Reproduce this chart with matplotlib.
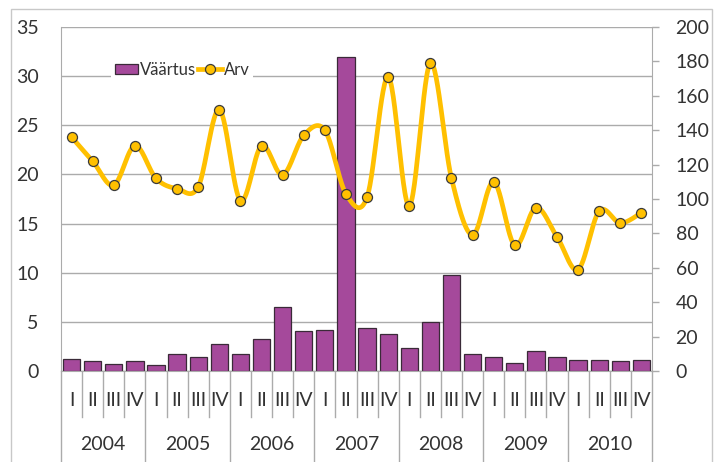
# quarterly value (bars, left axis) and count (smoothed line, right axis), 2004-2010

import numpy as np
import matplotlib
matplotlib.use("Agg")
import matplotlib.pyplot as plt
from matplotlib.patches import Patch, Rectangle
from matplotlib.lines import Line2D

plt.rcParams['font.family'] = ['Lato', 'DejaVu Sans']

years = ['2004', '2005', '2006', '2007', '2008', '2009', '2010']
quarters = ['I', 'II', 'III', 'IV']

vaartus = [1.2, 1.0, 0.7, 1.0,
           0.6, 1.7, 1.4, 2.7,
           1.7, 3.3, 6.5, 4.1,
           4.2, 31.9, 4.4, 3.8,
           2.3, 5.0, 9.8, 1.7,
           1.4, 0.8, 2.0, 1.4,
           1.1, 1.1, 1.0, 1.1]

arv = [136, 122, 108, 131,
       112, 106, 107, 152,
       99, 131, 114, 137,
       140, 103, 101, 171,
       96, 179, 112, 79,
       110, 73, 95, 78,
       59, 93, 86, 92]

bar_color = '#A5499B'
line_color = '#FFC000'
grid_color = '#ABABAB'
text_color = '#333333'


def smooth(xs, ys, steps=30):
    # cubic bezier through every point, control points from neighbours (catmull-rom)
    xs = np.asarray(xs, float)
    ys = np.asarray(ys, float)
    px = np.concatenate([[xs[0]], xs, [xs[-1]]])
    py = np.concatenate([[ys[0]], ys, [ys[-1]]])
    out_x, out_y = [], []
    t = np.linspace(0, 1, steps)
    for i in range(1, len(px) - 2):
        p0 = np.array([px[i], py[i]])
        p3 = np.array([px[i + 1], py[i + 1]])
        c1 = p0 + (np.array([px[i + 1], py[i + 1]]) - np.array([px[i - 1], py[i - 1]])) / 6
        c2 = p3 - (np.array([px[i + 2], py[i + 2]]) - np.array([px[i], py[i]])) / 6
        b = ((1 - t) ** 3)[:, None] * p0 + (3 * (1 - t) ** 2 * t)[:, None] * c1 \
            + (3 * (1 - t) * t ** 2)[:, None] * c2 + (t ** 3)[:, None] * p3
        out_x.extend(b[:, 0])
        out_y.extend(b[:, 1])
    return np.array(out_x), np.array(out_y)


fig = plt.figure(figsize=(7.2, 4.62), dpi=100)
ax = fig.add_axes([61 / 720, 1 - 371 / 462, 591 / 720, 344 / 462])
ax2 = ax.twinx()

x = np.arange(len(vaartus))

ax.bar(x, vaartus, width=0.82, color=bar_color, edgecolor='#3a2a38', linewidth=0.9, zorder=2)
ax.set_xlim(-0.5, len(x) - 0.5)
ax.set_ylim(0, 35)
ax.set_yticks(np.arange(0, 36, 5))
ax.yaxis.grid(True, color=grid_color, linewidth=1.0)
ax.set_axisbelow(True)
ax.tick_params(axis='y', length=0, pad=16, labelsize=14, labelcolor=text_color)
ax.set_xticks([])

sx, sy = smooth(x, arv)
ax2.plot(sx, sy, color=line_color, linewidth=3.4, solid_capstyle='round', zorder=3)
ax2.plot(x, arv, linestyle='none', marker='o', markersize=7.2, markerfacecolor=line_color,
         markeredgecolor='#3a3a3a', markeredgewidth=0.9, zorder=4)
ax2.set_ylim(0, 200)
ax2.set_yticks(np.arange(0, 201, 20))
ax2.tick_params(axis='y', length=5, width=1, color=grid_color, pad=12, labelsize=14,
                labelcolor=text_color)

for a in (ax, ax2):
    a.spines['top'].set_visible(False)
    a.spines['left'].set_color(grid_color)
    a.spines['right'].set_color(grid_color)
    a.spines['bottom'].set_color(grid_color)
ax2.spines['left'].set_visible(False)
ax2.spines['bottom'].set_visible(False)
ax.spines['right'].set_visible(False)

# two-level category axis below the plot
tr = ax.get_xaxis_transform()
for i in range(len(x)):
    ax.text(i, -0.085, quarters[i % 4], transform=tr, ha='center', va='center',
            fontsize=14, color=text_color)
for i in range(len(x) + 1):
    if i % 4 == 0:
        ax.plot([i - 0.5, i - 0.5], [0, -0.27], transform=tr, color=grid_color,
                linewidth=1, clip_on=False)
    else:
        ax.plot([i - 0.5, i - 0.5], [0, -0.135], transform=tr, color=grid_color,
                linewidth=1, clip_on=False)
for k, yr in enumerate(years):
    ax.text(4 * k + 1.5, -0.215, yr, transform=tr, ha='center', va='center',
            fontsize=14, color=text_color)

# chart frame
fig.patches.append(Rectangle((11 / 720, -0.05), 701 / 720, 1 - 9 / 462 + 0.05,
                             transform=fig.transFigure, fill=False,
                             edgecolor='#C8C8C8', linewidth=1))

handles = [Patch(facecolor=bar_color, edgecolor='#3a2a38', linewidth=0.9),
           Line2D([], [], color=line_color, linewidth=3.4, marker='o', markersize=7.2,
                  markerfacecolor=line_color, markeredgecolor='#3a3a3a', markeredgewidth=0.9)]
leg = ax2.legend(handles, ['Väärtus', 'Arv'], ncol=2, loc='center left',
                 bbox_to_anchor=(0.085, 0.875), frameon=True, fancybox=False,
                 edgecolor='none', facecolor='white', framealpha=1,
                 fontsize=12, handlelength=1.4, handleheight=0.6, handletextpad=0.15,
                 columnspacing=0.1, borderpad=0.2, borderaxespad=0)
for t in leg.get_texts():
    t.set_color(text_color)

fig.savefig('out.png', dpi=100)
